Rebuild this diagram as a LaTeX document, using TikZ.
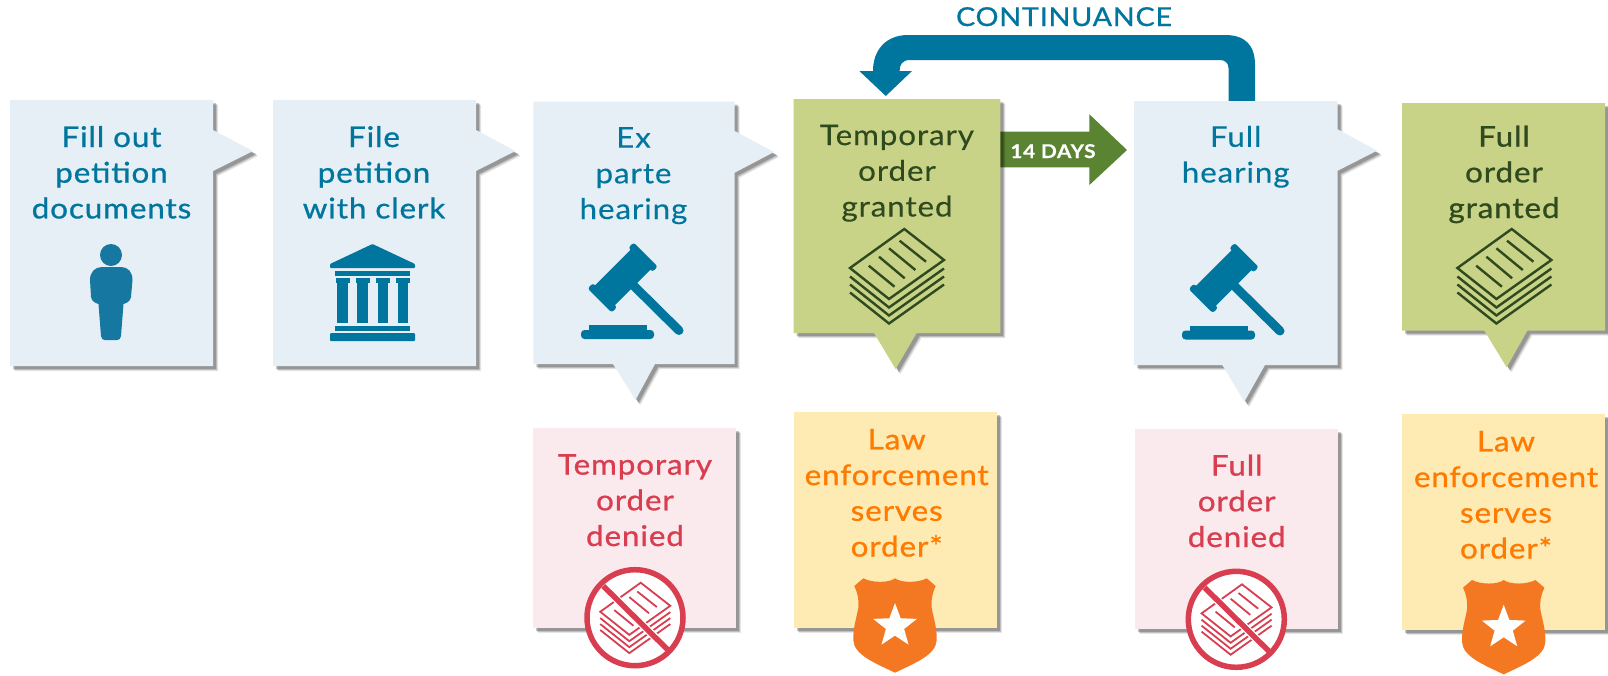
\documentclass[tikz,border=0pt]{standalone}
\usepackage{fontspec}
\setmainfont[FakeStretch=1.1,LetterSpace=3.2,FakeBold=0.2]{Lato}
\newfontfamily\demifont[FakeStretch=1.1,LetterSpace=3.2,FakeBold=0.9]{Lato}
\usetikzlibrary{shapes.geometric}
\definecolor{paleblue}{HTML}{E6EFF5}
\definecolor{deepblue}{HTML}{00769E}
\definecolor{personblue}{HTML}{1678A0}
\definecolor{leaf}{HTML}{C9D387}
\definecolor{darkleaf}{HTML}{2F4A1F}
\definecolor{palepink}{HTML}{FBEAED}
\definecolor{redtext}{HTML}{D93D50}
\definecolor{paleyellow}{HTML}{FEEBB3}
\definecolor{orangetext}{HTML}{FF7A00}
\definecolor{badge}{HTML}{F47721}
\definecolor{arrowgreen}{HTML}{5A8332}
\tikzset{
  label text/.style={anchor=base,align=center,inner sep=0pt,font=\fontsize{28.5}{35.7}\selectfont},
  demi text/.style={label text,font=\fontsize{28.5}{35.7}\selectfont\demifont},
}
\newcommand{\softshadow}[1]{%
  \fill[black,opacity=.10,shift={(5,5)}] #1;
  \fill[black,opacity=.16,shift={(4,4)}] #1;
  \fill[black,opacity=.22,shift={(3,3)}] #1;
}
\newcommand{\docstack}[4]{% x, y of apex, scale, colour
  \begin{scope}[shift={(#1,#2)},scale=#3,draw=#4,line width=#3*2.4pt,line join=miter]
    \draw (0,0)--(39.7,31)--(-15.3,70)--(-54.3,39)--cycle;
    \foreach \d in {8.5,16.5,24.5}
      \draw (-54.3,39+\d)--(-15.3,70+\d)--(39.7,31+\d);
    \draw (-35.5,36.7)--(-9.8,57.7);
    \draw (-25.3,27.7)--(0.4,49.3);
    \draw (-15.3,19.3)--(11.1,41);
    \draw (-4.7,11.7)--(21.7,32.7);
  \end{scope}%
}
\newcommand{\gavelicon}[2]{%
  \begin{scope}[shift={(#1,#2)}]
    \draw[deepblue,line width=9pt,line cap=round] (634,286)--(679,330.5);
    \begin{scope}[shift={(622.7,277.5)},rotate=45,fill=deepblue]
      \fill (-27,-14) rectangle (27,14);
      \fill[rounded corners=2.5pt] (-32.5,-17) rectangle (-25,17);
      \fill[rounded corners=2.5pt] (25,-17) rectangle (32.5,17);
    \end{scope}
    \fill[deepblue] (589,325) rectangle (646.5,332);
    \fill[deepblue,rounded corners=3.5pt] (581,330) rectangle (654,339);
  \end{scope}%
}
\newcommand{\noorder}[2]{%
  \begin{scope}[shift={(#1,#2)}]
    \fill[white] (635,617.7) circle[radius=48];
    \docstack{640.7}{582.7}{0.745}{redtext}
    \draw[white,line width=8pt] (603.3,586)--(668,650);
    \draw[redtext,line width=5.5pt] (603.3,586)--(668,650);
    \draw[redtext,line width=5.5pt] (635,617.7) circle[radius=48];
  \end{scope}%
}
\newcommand{\shieldicon}[2]{%
  \begin{scope}[shift={(#1,#2)}]
    \fill[badge] (895,578.3)
      .. controls (889,583) and (872,583) .. (863.3,578.3)
      -- (854.3,586)
      .. controls (858,594) and (859,600) .. (858.3,608)
      .. controls (856,620) and (853,628) .. (853.3,640)
      .. controls (854,655) and (875,663) .. (895,672.7)
      .. controls (915,663) and (936,655) .. (936.7,640)
      .. controls (937,628) and (934,620) .. (931.7,608)
      .. controls (931,600) and (932,594) .. (935.7,586)
      -- (926.7,578.3)
      .. controls (918,583) and (901,583) .. (895,578.3) -- cycle;
    \node[star,star points=5,star point ratio=2.4,fill=white,inner sep=0pt,minimum size=46pt,draw=none] (star#1) at (895,626) {};
  \end{scope}%
}
\begin{document}
\begin{tikzpicture}[x=1pt,y=-1pt]
\useasboundingbox (0,0) rectangle (1608,675);
% continuance arrow
\fill[deepblue] (1255,102) -- (1255,65) .. controls (1255,45) and (1245,35) .. (1225,35)
  -- (908,35) .. controls (886,35) and (873,50) .. (873,71) -- (859.3,71) -- (885.8,96) -- (912,71)
  -- (899.6,71) .. controls (899.6,65) and (902,60) .. (910,60) -- (1220,60)
  .. controls (1225,60) and (1228.5,63) .. (1228.5,68) -- (1228.5,102) -- cycle;
\node[anchor=base,inner sep=0pt,text=deepblue,font=\fontsize{26}{30}\selectfont\demifont] (cont) at (1064,26) {CONTINUANCE};
% green arrow
\fill[arrowgreen] (1000,131.7)--(1089.4,131.7)--(1089.4,114.3)--(1127,150)--(1089.4,185)--(1089.4,167.3)--(1000,167.3)--cycle;
\node[anchor=base,inner sep=0pt,text=white,font=\fontsize{19}{20}\selectfont\bfseries] (days) at (1053,158) {14 DAYS};
% boxes
\def\pa{(10,100)--(213,100)--(213,130)--(253,151)--(213,171)--(213,366)--(10,366)--cycle}
\softshadow{\pa} \fill[paleblue] \pa;
\def\pa{(273,100)--(476,100)--(476,130)--(515.5,151)--(476,171)--(476,366)--(273,366)--cycle}
\softshadow{\pa} \fill[paleblue] \pa;
\def\pa{(533.4,101.7)--(734.7,101.7)--(734.7,131)--(774,152)--(734.7,172.7)--(734.7,364)--(655,364)--(635.5,400)--(613,364)--(533.4,364)--cycle}
\softshadow{\pa} \fill[paleblue] \pa;
\def\pa{(793.6,99)--(1000.4,99)--(1000.4,333)--(916.6,333)--(895.6,369)--(874,333)--(793.6,333)--cycle}
\softshadow{\pa} \fill[leaf] \pa;
\def\pa{(1134,101)--(1337.7,101)--(1337.7,129.3)--(1377,150.7)--(1337.7,170.7)--(1337.7,365)--(1265,365)--(1244.3,401.7)--(1222.3,365)--(1134,365)--cycle}
\softshadow{\pa} \fill[paleblue] \pa;
\def\pa{(1402,103)--(1605,103)--(1605,330.7)--(1527.3,330.7)--(1506.7,367.3)--(1484.3,330.7)--(1402,330.7)--cycle}
\softshadow{\pa} \fill[leaf] \pa;
\def\pa{(533.3,427.7)--(736,427.7)--(736,628)--(533.3,628)--cycle}
\softshadow{\pa} \fill[palepink] \pa;
\def\pa{(794.3,412.3)--(997,412.3)--(997,628)--(794.3,628)--cycle}
\softshadow{\pa} \fill[paleyellow] \pa;
\def\pa{(1135,429)--(1338,429)--(1338,629)--(1135,629)--cycle}
\softshadow{\pa} \fill[palepink] \pa;
\def\pa{(1402,414)--(1605,414)--(1605,629.7)--(1402,629.7)--cycle}
\softshadow{\pa} \fill[paleyellow] \pa;
% texts (position = baseline of the last line)
\node[demi text,text=deepblue] (t1) at (111.5,218.4) {Fill out\\petition\\documents};
\node[demi text,text=deepblue] (t2) at (374,218.4) {File\\petition\\with clerk};
\node[label text,text=deepblue] (t3) at (633.5,219) {Ex\\parte\\hearing};
\node[label text,text=darkleaf] (t4) at (897,216.5) {Temporary\\order\\granted};
\node[label text,text=deepblue] (t5) at (1235.7,182.5) {Full\\hearing};
\node[demi text,text=darkleaf] (t6) at (1504,218) {Full\\order\\granted};
\node[demi text,text=redtext] (t7) at (635,546) {Temporary\\order\\denied};
\node[demi text,text=orangetext] (t8) at (896.7,556.5) {Law\\enforcement\\serves\\order*};
\node[demi text,text=redtext] (t9) at (1236.7,547) {Full\\order\\denied};
\node[demi text,text=orangetext] (t10) at (1506,558.5) {Law\\enforcement\\serves\\order*};
% person
\fill[personblue] (111,255) circle[radius=11];
\fill[personblue] (102,267) -- (121,267) .. controls (128,267) and (132.5,272) .. (132.5,280)
  -- (131,297) .. controls (130.5,301) and (127,303) .. (123.5,304)
  -- (121,336) .. controls (120.8,339) and (119,340) .. (117,340)
  -- (105,340) .. controls (103,340) and (101.2,339) .. (101,336)
  -- (98.5,304) .. controls (95,303) and (91.5,301) .. (91,297)
  -- (90,280) .. controls (90,272) and (95,267) .. (102,267) -- cycle;
% bank
\begin{scope}[fill=deepblue]
\fill[rounded corners=1pt] (372.5,244) -- (415,264) -- (415,268) -- (330,268) -- (330,264) -- cycle;
\fill (335,271) rectangle (410,275.5);
\foreach \a/\b in {337/348,357/368,377.5/388,397.5/408} {
  \fill (\a,282) rectangle (\b,323);
  \fill (\a-1.5,278) rectangle (\b+1.5,282.5);
}
\fill (335,326) rectangle (410,331);
\fill[rounded corners=1pt] (330,333) rectangle (415,341);
\end{scope}
\gavelicon{0}{0}
\gavelicon{601}{0.5}
\docstack{904.3}{229}{1}{darkleaf}
\docstack{1511.7}{229}{1}{darkleaf}
\noorder{0}{0}
\noorder{601.3}{1.6}
\shieldicon{0}{0}
\shieldicon{608.7}{1.7}
\end{tikzpicture}
\end{document}
